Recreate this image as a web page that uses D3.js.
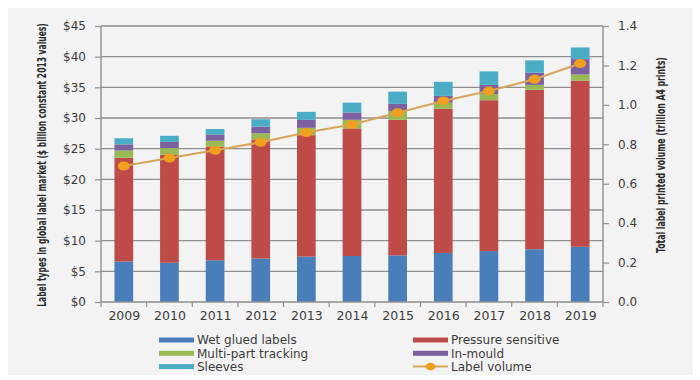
<!DOCTYPE html>
<html>
<head>
<meta charset="utf-8">
<script src="https://cdn.jsdelivr.net/npm/d3@7"></script>
<style>
  html, body { margin: 0; padding: 0; background: #ffffff; }
  svg { display: block; }
</style>
</head>
<body>
<svg id="chart" width="700" height="380"></svg>
<script>
// ---- Data ----
const years = ["2009","2010","2011","2012","2013","2014","2015","2016","2017","2018","2019"];
const wetGlued          = [6.6, 6.4, 6.8, 7.1, 7.4, 7.5, 7.6, 8.0, 8.3, 8.6, 9.0];
const pressureSensitive = [16.9, 17.6, 18.5, 19.4, 19.8, 20.8, 22.1, 23.5, 24.6, 26.0, 27.1];
const multiPart         = [1.2, 1.1, 1.0, 1.0, 1.2, 1.4, 1.4, 1.0, 1.0, 0.8, 1.0];
const inMould           = [1.0, 1.0, 1.0, 1.1, 1.3, 1.2, 1.2, 1.1, 1.5, 2.0, 2.5];
const sleeves           = [1.0, 1.0, 0.9, 1.2, 1.3, 1.6, 2.0, 2.3, 2.2, 2.0, 1.9];
const labelVolume       = [0.69, 0.73, 0.77, 0.81, 0.86, 0.90, 0.96, 1.02, 1.07, 1.13, 1.21];
const seriesNames = ["Wet glued labels", "Pressure sensitive", "Multi-part tracking", "In-mould", "Sleeves"];
const lineName = "Label volume";
const leftTicks  = [0, 5, 10, 15, 20, 25, 30, 35, 40, 45];
const rightTicks = [0, 0.2, 0.4, 0.6, 0.8, 1.0, 1.2, 1.4];
const leftTitle  = "Label types in global label market ($ billion constant 2013 values)";
const rightTitle = "Total label printed volume (trillion A4 prints)";

// ---- Styles ----
const colors = ["#4a7ebb", "#be4b48", "#98b954", "#7d60a0", "#4bacc6"];
const lineColor = "#d6a55a";
const markerColor = "#f0a01e";
const gridColor = "#8f8f8f";
const textColor = "#3c3c3c";
const tickFont = "'DejaVu Sans', sans-serif";
const titleFont = "'Liberation Sans Narrow', 'DejaVu Sans Condensed', sans-serif";

const svg = d3.select("#chart");
const plotL = 101, plotR = 603, plotT = 26, plotB = 302;

// background panel
svg.append("rect").attr("x", 8).attr("y", 8).attr("width", 685).attr("height", 367)
  .attr("fill", "#f3f3f3");

const x = d3.scaleBand().domain(years).range([plotL, plotR]).paddingInner(0).paddingOuter(0);
const y = d3.scaleLinear().domain([0, 45]).range([plotB, plotT]);
const y2 = d3.scaleLinear().domain([0, 1.4]).range([plotB, plotT]);

// gridlines
svg.append("g").selectAll("line").data(leftTicks.filter(d => d > 0)).join("line")
  .attr("x1", plotL).attr("x2", plotR)
  .attr("y1", d => y(d)).attr("y2", d => y(d))
  .attr("stroke", gridColor).attr("stroke-width", 1.3);

// stacked bars
const table = years.map((yr, i) => ({
  year: yr,
  [seriesNames[0]]: wetGlued[i],
  [seriesNames[1]]: pressureSensitive[i],
  [seriesNames[2]]: multiPart[i],
  [seriesNames[3]]: inMould[i],
  [seriesNames[4]]: sleeves[i]
}));
const stack = d3.stack().keys(seriesNames)(table);
const barW = x.bandwidth() * 0.41;
svg.append("g").selectAll("g").data(stack).join("g")
  .attr("fill", (d, i) => colors[i])
  .selectAll("rect").data(d => d).join("rect")
  .attr("x", d => x(d.data.year) + (x.bandwidth() - barW) / 2)
  .attr("width", barW)
  .attr("y", d => y(d[1]))
  .attr("height", d => y(d[0]) - y(d[1]));

// left axis
const gL = svg.append("g").attr("transform", `translate(${plotL},0)`)
  .call(d3.axisLeft(y).tickValues(leftTicks).tickFormat(d => "$" + d).tickSize(6).tickPadding(9));
// right axis
const gR = svg.append("g").attr("transform", `translate(${plotR},0)`)
  .call(d3.axisRight(y2).tickValues(rightTicks).tickFormat(d3.format(".1f")).tickSize(6).tickPadding(9));
// bottom axis (labels at band centres, ticks at band boundaries)
const xc = d3.scalePoint().domain(years).range([x(years[0]) + x.bandwidth() / 2, x(years[years.length - 1]) + x.bandwidth() / 2]);
const gB = svg.append("g").attr("transform", `translate(0,${plotB})`)
  .call(d3.axisBottom(xc).tickSize(0).tickPadding(9));
gB.select(".domain").attr("d", `M${plotL},0H${plotR}`);
const bounds = years.map(d => x(d)).concat([plotR]);
gB.selectAll("line.bt").data(bounds).join("line").attr("class", "bt")
  .attr("x1", d => d).attr("x2", d => d).attr("y1", 0).attr("y2", 5)
  .attr("stroke", gridColor).attr("stroke-width", 1.2);

[gL, gR, gB].forEach(g => {
  g.selectAll(".domain").attr("stroke", gridColor).attr("stroke-width", 1.4);
  g.selectAll(".tick line").attr("stroke", gridColor).attr("stroke-width", 1.2);
  g.selectAll(".tick text").attr("fill", textColor).attr("font-family", tickFont).attr("font-size", 12);
});
gL.select(".domain").attr("d", `M0,${plotT}V${plotB}`);
gR.select(".domain").attr("d", `M0,${plotT}V${plotB}`);
gB.selectAll(".tick text").attr("font-size", 12.5);

// line + markers
const line = d3.line().x((d, i) => xc(years[i])).y(d => y2(d));
svg.append("path").datum(labelVolume).attr("d", line)
  .attr("fill", "none").attr("stroke", lineColor).attr("stroke-width", 2);
svg.append("g").selectAll("ellipse").data(labelVolume).join("ellipse")
  .attr("cx", (d, i) => xc(years[i])).attr("cy", d => y2(d))
  .attr("rx", 6).attr("ry", 4.5).attr("fill", markerColor);

// axis titles (condensed to the reference length with a horizontal scale)
function axisTitle(txt, cx, cy, len) {
  const g = svg.append("g");
  const t = g.append("text").attr("text-anchor", "middle").attr("dy", "0.35em")
    .attr("font-family", titleFont).attr("font-weight", "bold")
    .attr("font-size", 12).attr("fill", "#2a2a2a").text(txt);
  const natural = t.node().getComputedTextLength();
  const sx = Math.min(1, len / natural);
  g.attr("transform", `translate(${cx},${cy}) rotate(-90) scale(${sx},1)`);
}
axisTitle(leftTitle, 42, 165, 284);
axisTitle(rightTitle, 661, 155, 196);

// legend
const legendItems = [
  { name: seriesNames[0], color: colors[0], col: 0, row: 0 },
  { name: seriesNames[1], color: colors[1], col: 1, row: 0 },
  { name: seriesNames[2], color: colors[2], col: 0, row: 1 },
  { name: seriesNames[3], color: colors[3], col: 1, row: 1 },
  { name: seriesNames[4], color: colors[4], col: 0, row: 2 },
  { name: lineName, line: true, col: 1, row: 2 }
];
const colX = [159, 413];
const lg = svg.append("g").selectAll("g").data(legendItems).join("g")
  .attr("transform", d => `translate(${colX[d.col]},${340 + d.row * 13.3})`);
lg.filter(d => !d.line).append("rect")
  .attr("x", 0).attr("y", -2.5).attr("width", 35).attr("height", 5).attr("fill", d => d.color);
lg.filter(d => d.line).append("line")
  .attr("x1", 0).attr("x2", 35).attr("y1", 0).attr("y2", 0)
  .attr("stroke", lineColor).attr("stroke-width", 2);
lg.filter(d => d.line).append("ellipse")
  .attr("cx", 17.5).attr("cy", 0).attr("rx", 5).attr("ry", 3.8).attr("fill", markerColor);
lg.append("text").attr("x", 38).attr("y", 0).attr("dy", "0.36em")
  .attr("font-family", tickFont).attr("font-size", 12).attr("fill", textColor)
  .text(d => d.name);
</script>
</body>
</html>
